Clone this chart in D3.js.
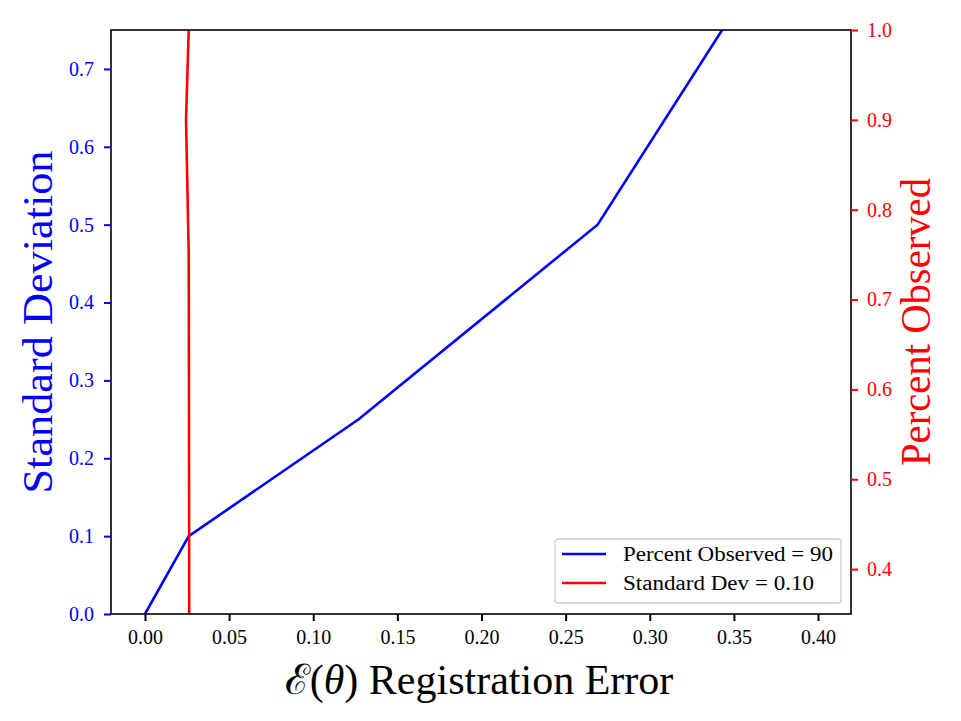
<!DOCTYPE html>
<html>
<head>
<meta charset="utf-8">
<script src="https://cdn.jsdelivr.net/npm/d3@7"></script>
<style>
  body { margin: 0; background: #fff; }
  text { font-family: "Liberation Serif", "DejaVu Serif", serif; }
</style>
</head>
<body>
<div id="chart-area"></div>
<script>
// data
let blueErr = [0.0, 0.026, 0.127, 0.269, 0.343];
let blueStd = [0.0, 0.10, 0.25, 0.50, 0.75];
let redErr = [0.0263, 0.0262, 0.0260, 0.0244, 0.0260];
let redPct = [0.30, 0.50, 0.75, 0.90, 1.00];
let xTicks = [0, 0.05, 0.10, 0.15, 0.20, 0.25, 0.30, 0.35, 0.40];
let leftTicks = [0, 0.1, 0.2, 0.3, 0.4, 0.5, 0.6, 0.7];
let rightTicks = [0.4, 0.5, 0.6, 0.7, 0.8, 0.9, 1.0];
let legendLabels = ["Percent Observed = 90", "Standard Dev = 0.10"];

let width = 961, height = 721;
let margin = {top: 30, right: 110, bottom: 107, left: 111};

let svg = d3.select("#chart-area").append("svg")
  .attr("width", width)
  .attr("height", height);

let x = d3.scaleLinear().domain([-0.0202, 0.4196]).range([margin.left, width - margin.right]);
let yL = d3.scaleLinear().domain([0, 0.75]).range([height - margin.bottom, margin.top]);
let yR = d3.scaleLinear().domain([0.35, 1.0]).range([height - margin.bottom, margin.top]);

svg.append("clipPath").attr("id", "clip")
  .append("rect")
  .attr("x", margin.left).attr("y", margin.top)
  .attr("width", width - margin.left - margin.right)
  .attr("height", height - margin.top - margin.bottom);

let blue = blueErr.map((d, i) => [d, blueStd[i]]);
let red = redErr.map((d, i) => [d, redPct[i]]);

svg.append("path")
  .datum(blue)
  .attr("clip-path", "url(#clip)")
  .attr("fill", "none")
  .attr("stroke", "#0000ff")
  .attr("stroke-width", 2.6)
  .attr("d", d3.line().x(d => x(d[0])).y(d => yL(d[1])));

svg.append("path")
  .datum(red)
  .attr("clip-path", "url(#clip)")
  .attr("fill", "none")
  .attr("stroke", "#ff0000")
  .attr("stroke-width", 2.6)
  .attr("d", d3.line().x(d => x(d[0])).y(d => yR(d[1])));

// frame
svg.append("rect")
  .attr("x", margin.left).attr("y", margin.top)
  .attr("width", width - margin.left - margin.right)
  .attr("height", height - margin.top - margin.bottom)
  .attr("fill", "none")
  .attr("stroke", "#000")
  .attr("stroke-width", 1.6);

function styleAxis(g, color) {
  g.select(".domain").remove();
  g.selectAll(".tick line").attr("stroke", color).attr("stroke-width", 2);
  g.selectAll(".tick text")
    .attr("fill", color)
    .style("font-family", "'Liberation Serif', serif")
    .style("font-size", "20px");
}

let xAxis = d3.axisBottom(x).tickValues(xTicks).tickFormat(d3.format(".2f")).tickSize(7).tickPadding(9);
svg.append("g")
  .attr("class", "axis x-axis")
  .attr("transform", "translate(0," + (height - margin.bottom) + ")")
  .call(xAxis)
  .call(g => styleAxis(g, "#000"));

let yAxisL = d3.axisLeft(yL).tickValues(leftTicks).tickFormat(d3.format(".1f")).tickSize(7).tickPadding(10);
svg.append("g")
  .attr("class", "axis y-axis")
  .attr("transform", "translate(" + margin.left + ",0)")
  .call(yAxisL)
  .call(g => styleAxis(g, "#0000ff"));

let yAxisR = d3.axisRight(yR).tickValues(rightTicks).tickFormat(d3.format(".1f")).tickSize(7).tickPadding(9);
svg.append("g")
  .attr("class", "axis y-axis")
  .attr("transform", "translate(" + (width - margin.right) + ",0)")
  .call(yAxisR)
  .call(g => styleAxis(g, "#ff0000"));

// axis labels
let midY = (margin.top + height - margin.bottom) / 2;
let xl = svg.append("text")
  .attr("x", 479).attr("y", 694)
  .attr("text-anchor", "middle")
  .style("font-size", "42px")
  .attr("fill", "#000");
xl.append("tspan").text("\u2130");
xl.append("tspan").text("(");
xl.append("tspan").style("font-style", "italic").text("\u03b8");
xl.append("tspan").text(") Registration Error");

svg.append("text")
  .attr("transform", "translate(52," + midY + ") rotate(-90)")
  .attr("text-anchor", "middle")
  .attr("textLength", 343)
  .attr("lengthAdjust", "spacingAndGlyphs")
  .style("font-size", "42px")
  .attr("fill", "#0000ff")
  .text("Standard Deviation");

svg.append("text")
  .attr("transform", "translate(930," + midY + ") rotate(-90)")
  .attr("text-anchor", "middle")
  .attr("textLength", 288)
  .attr("lengthAdjust", "spacingAndGlyphs")
  .style("font-size", "42px")
  .attr("fill", "#ff0000")
  .text("Percent Observed");

// legend
let lg = svg.append("g").attr("transform", "translate(555,539)");
lg.append("rect")
  .attr("width", 286).attr("height", 64)
  .attr("rx", 3)
  .attr("fill", "#fff")
  .attr("fill-opacity", 0.8)
  .attr("stroke", "#cccccc")
  .attr("stroke-width", 1.3);
let legColors = ["#0000ff", "#ff0000"];
let legWidths = [210, 191];
legendLabels.forEach((t, i) => {
  lg.append("line")
    .attr("x1", 7).attr("x2", 51)
    .attr("y1", 15 + i * 29).attr("y2", 15 + i * 29)
    .attr("stroke", legColors[i]).attr("stroke-width", 2.6);
  lg.append("text")
    .attr("x", 68).attr("y", 22 + i * 29)
    .attr("textLength", legWidths[i])
    .attr("lengthAdjust", "spacingAndGlyphs")
    .style("font-size", "20px")
    .attr("fill", "#000")
    .text(t);
});
</script>
</body>
</html>
